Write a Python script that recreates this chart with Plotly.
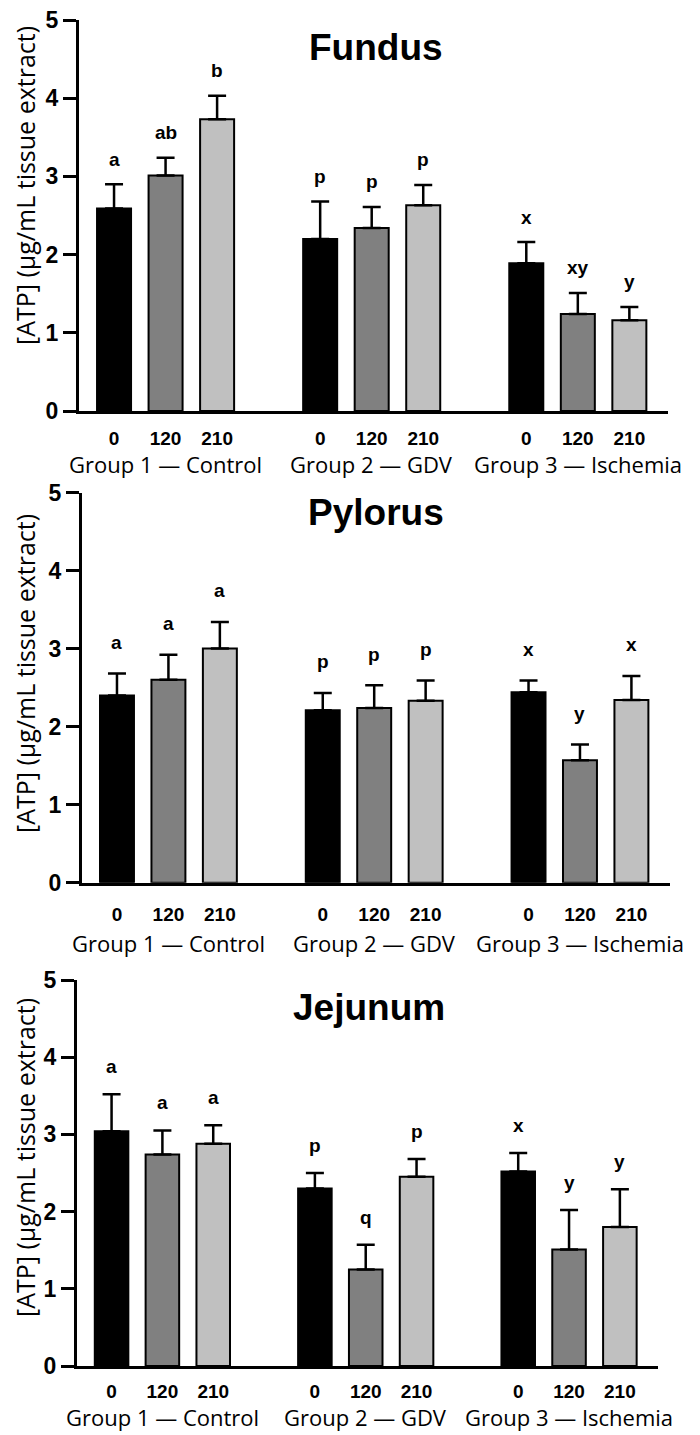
import plotly.graph_objects as go

# ---------------- data ----------------
groups = ["Group 1 \u2014 Control", "Group 2 \u2014 GDV", "Group 3 \u2014 Ischemia"]
times = ["0", "120", "210"]
panels = ["Fundus", "Pylorus", "Jejunum"]

fundus_mean = [2.59, 3.01, 3.73, 2.20, 2.34, 2.63, 1.89, 1.24, 1.16]
fundus_err = [0.31, 0.23, 0.30, 0.48, 0.27, 0.26, 0.27, 0.27, 0.17]
fundus_letters = ["a", "ab", "b", "p", "p", "p", "x", "xy", "y"]

pylorus_mean = [2.40, 2.60, 3.00, 2.21, 2.24, 2.33, 2.44, 1.57, 2.34]
pylorus_err = [0.28, 0.32, 0.34, 0.22, 0.29, 0.26, 0.15, 0.20, 0.31]
pylorus_letters = ["a", "a", "a", "p", "p", "p", "x", "y", "x"]

jejunum_mean = [3.04, 2.74, 2.88, 2.30, 1.25, 2.45, 2.52, 1.51, 1.80]
jejunum_err = [0.48, 0.31, 0.24, 0.20, 0.32, 0.23, 0.24, 0.51, 0.49]
jejunum_letters = ["a", "a", "a", "p", "q", "p", "x", "y", "y"]

y_ticks = [0, 1, 2, 3, 4, 5]
y_title = "[ATP] (\u03bcg/mL tissue extract)"

# ---------------- layout constants (pixels in the 700x1435 page) ----------------
OFF = 8                      # default page body margin
W, H = 700 - OFF, 1435 - OFF


def px(x):
    return (x - OFF) / W


def py(y):
    return 1 - (y - OFF) / H


# (axis left x, axis right x, y pixel of 0, y pixel of 5)
geom = [(79, 668, 411, 20), (82, 670, 882.7, 492.5), (77, 658, 1366, 980)]
title_pos = [(376, 47), (375.5, 513), (368.5, 1007)]
ytitle_pos = [186, 674, 1158]
tick_standoff = [8, 12, 6]
group_shift = [53, 60, 51]
letter_off = [0.32, 0.40, 0.36]
x_range = [-0.68, 10.75]

bar_colors = ["#000000", "#808080", "#c0c0c0"] * 3
positions = [g * 4 + t for g in range(len(groups)) for t in range(len(times))]
tick_text = times * len(groups)

means = [fundus_mean, pylorus_mean, jejunum_mean]
errs = [fundus_err, pylorus_err, jejunum_err]
letters = [fundus_letters, pylorus_letters, jejunum_letters]

BOLD = "Liberation Sans, Arial, sans-serif"
REG = "Open Sans, sans-serif"

fig = go.Figure()
annotations = []
layout = dict(
    width=W, height=H,
    margin=dict(l=0, r=0, t=0, b=0, autoexpand=False),
    paper_bgcolor="white", plot_bgcolor="white",
    showlegend=False,
)

for i in range(3):
    sfx = "" if i == 0 else str(i + 1)
    xl, xr, y0, y5 = geom[i]
    fig.add_trace(go.Bar(
        x=positions, y=means[i],
        width=0.66,
        marker=dict(color=bar_colors, line=dict(color="black", width=2)),
        error_y=dict(type="data", symmetric=False, array=errs[i],
                     arrayminus=[0] * len(errs[i]), color="black",
                     thickness=2.5, width=9),
        xaxis="x" + sfx, yaxis="y" + sfx,
        hoverinfo="skip",
    ))
    layout["xaxis" + sfx] = dict(
        domain=[px(xl), px(xr)], range=x_range, anchor="y" + sfx,
        tickvals=positions, ticktext=tick_text, ticks="",
        showline=True, linecolor="black", linewidth=3,
        showgrid=False, zeroline=False, automargin=False,
        ticklabeloverflow="allow",
        tickfont=dict(family=BOLD, size=19, color="black", weight="bold"),
        ticklabelstandoff=tick_standoff[i],
    )
    layout["yaxis" + sfx] = dict(
        domain=[py(y0), py(y5)], range=[0, 5], anchor="x" + sfx,
        tickvals=y_ticks, ticks="outside", ticklen=13, tickwidth=3,
        tickcolor="black",
        showline=True, linecolor="black", linewidth=3,
        showgrid=False, zeroline=False, automargin=False,
        ticklabeloverflow="allow",
        tickfont=dict(family=BOLD, size=23, color="black", weight="bold"),
    )
    # panel title
    tx, ty = title_pos[i]
    annotations.append(dict(
        text=panels[i], x=px(tx), y=py(ty), xref="paper", yref="paper",
        xanchor="center", yanchor="middle", showarrow=False,
        font=dict(family=BOLD, size=37, color="black", weight="bold")))
    # y axis title
    annotations.append(dict(
        text=y_title, x=px(25), y=py(ytitle_pos[i]), xref="paper", yref="paper",
        xanchor="center", yanchor="middle", textangle=-90, showarrow=False,
        font=dict(family=REG, size=25, color="black")))
    # group labels
    for g, name in enumerate(groups):
        annotations.append(dict(
            text=name, x=g * 4 + 1, y=0, xref="x" + sfx, yref="y" + sfx,
            xanchor="center", yanchor="middle", yshift=-group_shift[i],
            showarrow=False, font=dict(family=REG, size=22, color="black")))
    # significance letters
    for k, lt in enumerate(letters[i]):
        annotations.append(dict(
            text=lt, x=positions[k], y=means[i][k] + errs[i][k] + letter_off[i],
            xref="x" + sfx, yref="y" + sfx, xanchor="center", yanchor="middle",
            showarrow=False,
            font=dict(family=BOLD, size=19, color="black", weight="bold")))

layout["annotations"] = annotations
fig.update_layout(**layout)
fig.write_html("out.html")
